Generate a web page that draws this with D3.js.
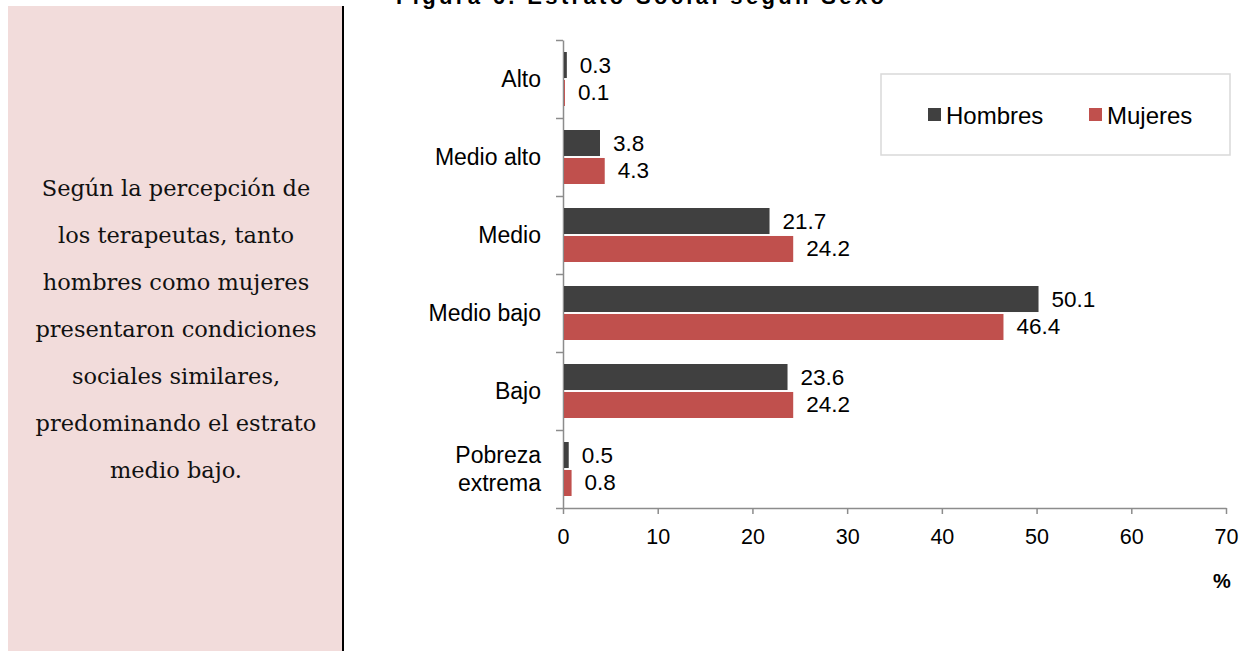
<!DOCTYPE html>
<html>
<head>
<meta charset="utf-8">
<script src="https://cdn.jsdelivr.net/npm/d3@7"></script>
<style>
  body { margin: 0; background: #fff; }
  svg { display: block; font-family: Arial, "Liberation Sans", sans-serif; }
</style>
</head>
<body>
<div class="container"></div>
<script>
const categories = ["Alto", "Medio alto", "Medio", "Medio bajo", "Bajo", "Pobreza extrema"];
const series = ["Hombres", "Mujeres"];
const hombres = [0.3, 3.8, 21.7, 50.1, 23.6, 0.5];
const mujeres = [0.1, 4.3, 24.2, 46.4, 24.2, 0.8];
const xTicks = [0, 10, 20, 30, 40, 50, 60, 70];
const noteLines = [
  "Según la percepción de",
  "los terapeutas, tanto",
  "hombres como mujeres",
  "presentaron condiciones",
  "sociales similares,",
  "predominando el estrato",
  "medio bajo."
];
const colors = { Hombres: "#404040", Mujeres: "#c0504d" };

const W = 1252, H = 651;

const svg = d3.select(".container")
  .append("svg")
  .attr("width", W)
  .attr("height", H);

// left note panel
svg.append("rect")
  .attr("x", 8).attr("y", 6)
  .attr("width", 334).attr("height", H - 6)
  .attr("fill", "#f2dcdb");

svg.append("rect")
  .attr("x", 342).attr("y", 6)
  .attr("width", 2).attr("height", H - 6)
  .attr("fill", "#000");

svg.append("g")
  .selectAll("text")
  .data(noteLines)
  .enter()
  .append("text")
  .attr("x", 176)
  .attr("y", (d, i) => 188 + i * 47)
  .attr("text-anchor", "middle")
  .attr("dominant-baseline", "central")
  .style("font-family", "'DejaVu Serif', Georgia, serif")
  .style("font-size", "22.5px")
  .attr("fill", "#111")
  .text(d => d);

// title (clipped at the top edge, as in the source)
svg.append("text")
  .attr("x", 396)
  .attr("y", 4)
  .attr("textLength", 488)
  .style("font-size", "22px")
  .style("font-weight", "bold")
  .attr("fill", "#000")
  .text("Figura 6. Estrato Social según Sexo");

// scales
const xScale = d3.scaleLinear().domain([0, 70]).range([563, 1226]);
const yScale = d3.scaleBand().domain(categories).range([40, 508]).padding(0);
const subScale = d3.scaleBand().domain(series).range([12, yScale.bandwidth() - 12]).paddingInner(0.07);
const edgeScale = d3.scaleLinear().domain([0, categories.length]).range([40, 508]);

// axes
const xAxis = svg.append("g")
  .attr("transform", "translate(0,508)")
  .call(d3.axisBottom(xScale).tickValues(xTicks).tickSize(6).tickSizeOuter(0).tickPadding(15));
xAxis.selectAll("text").style("font-size", "21.5px").attr("fill", "#000");

svg.append("g")
  .attr("transform", "translate(563,0)")
  .call(d3.axisLeft(edgeScale).ticks(categories.length).tickSize(7).tickSizeOuter(0).tickFormat(""));

svg.selectAll(".domain, .tick line").attr("stroke", "#8c8c8c").attr("stroke-width", 1.5);

// bars
const rows = categories.map((c, i) => ({ cat: c, Hombres: hombres[i], Mujeres: mujeres[i] }));

const groups = svg.append("g")
  .selectAll("g")
  .data(rows)
  .enter()
  .append("g")
  .attr("transform", d => `translate(0,${yScale(d.cat)})`);

groups.selectAll("rect")
  .data(d => series.map(s => ({ s: s, v: d[s] })))
  .enter()
  .append("rect")
  .attr("x", xScale(0) + 1)
  .attr("y", d => subScale(d.s))
  .attr("width", d => Math.max(xScale(d.v) - xScale(0), 0))
  .attr("height", subScale.bandwidth())
  .attr("fill", d => colors[d.s]);

groups.selectAll(".val")
  .data(d => series.map(s => ({ s: s, v: d[s] })))
  .enter()
  .append("text")
  .attr("class", "val")
  .attr("x", d => xScale(d.v) + 14)
  .attr("y", d => subScale(d.s) + subScale.bandwidth() / 2)
  .attr("dominant-baseline", "central")
  .style("font-size", "22.5px")
  .attr("fill", "#000")
  .text(d => d.v.toFixed(1));

// category labels
const catLabels = svg.append("g")
  .selectAll("text")
  .data(categories)
  .enter()
  .append("text")
  .attr("text-anchor", "end")
  .style("font-size", "23px")
  .attr("fill", "#000");

catLabels.each(function (d) {
  const words = d === "Pobreza extrema" ? ["Pobreza", "extrema"] : [d];
  const cy = yScale(d) + yScale.bandwidth() / 2;
  const t = d3.select(this);
  words.forEach((w, i) => {
    t.append("tspan")
      .attr("x", 541)
      .attr("y", cy + (i - (words.length - 1) / 2) * 28)
      .attr("dominant-baseline", "central")
      .text(w);
  });
});

// axis unit
svg.append("text")
  .attr("x", 1222)
  .attr("y", 581)
  .attr("text-anchor", "middle")
  .attr("dominant-baseline", "central")
  .style("font-size", "20px")
  .style("font-weight", "bold")
  .text("%");

// legend
svg.append("rect")
  .attr("x", 881).attr("y", 74)
  .attr("width", 349).attr("height", 81)
  .attr("fill", "#fff")
  .attr("stroke", "#d9d9d9")
  .attr("stroke-width", 1.5);

const legendX = { Hombres: 928, Mujeres: 1089 };
const legend = svg.append("g")
  .selectAll("g")
  .data(series)
  .enter()
  .append("g")
  .attr("transform", d => `translate(${legendX[d]},108)`);

legend.append("rect")
  .attr("width", 13).attr("height", 13)
  .attr("fill", d => colors[d]);

legend.append("text")
  .attr("x", 18)
  .attr("y", 7)
  .attr("dominant-baseline", "central")
  .style("font-size", "24px")
  .attr("fill", "#000")
  .text(d => d);
</script>
</body>
</html>
